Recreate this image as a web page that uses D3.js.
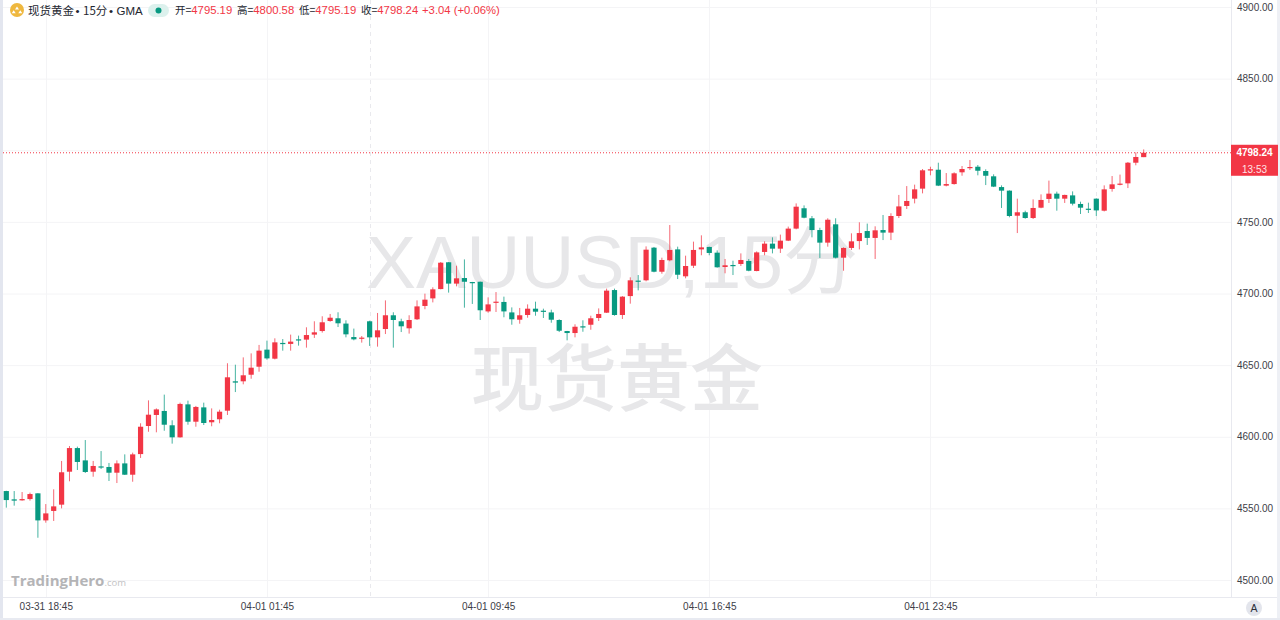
<!DOCTYPE html>
<html><head><meta charset="utf-8">
<script src="https://cdn.jsdelivr.net/npm/d3@7"></script>
<style>html,body{margin:0;padding:0;background:#fff;overflow:hidden}svg{display:block}</style>
</head><body><svg id="c" width="1280" height="620"></svg>
<script>
const opens=[4562.1,4556.3,4555.6,4556.5,4560.5,4541.6,4548.2,4552.6,4575.6,4592.1,4583.5,4575.6,4579.3,4578.9,4574.9,4581.4,4573.5,4587.9,4607.5,4615.2,4618.0,4608.0,4599.6,4622.6,4610.5,4620.5,4610.1,4612.2,4618.2,4638.7,
4638.7,4643.3,4648.9,4660.8,4654.5,4665.5,4664.8,4668.0,4667.8,4671.3,4673.8,4680.8,4682.7,4679.0,4669.6,4668.5,4680.6,4669.4,4675.2,4684.8,4680.6,4675.7,4682.0,4691.3,4696.6,4703.1,4721.8,4706.9,
4710.8,4708.0,4708.2,4687.5,4693.6,4694.1,4686.8,4681.7,4685.0,4689.4,4688.0,4686.8,4681.5,4673.8,4672.4,4677.1,4678.2,4682.9,4686.6,4702.4,4685.0,4698.2,4709.0,
4709.2,4732.0,4715.2,4723.2,4730.8,4712.0,4719.4,4730.8,4732.5,4728.5,4718.5,4719.9,4720.6,4722.7,4715.7,4729.0,4734.8,4731.3,4736.9,4745.3,4759.5,4752.5,4744.3,4735.5,4748.3,4725.0,4731.8,4736.6,4743.6,4738.8,
4744.3,4742.5,4754.1,4761.1,4766.2,4773.2,4786.2,4786.4,4775.3,4776.4,4784.6,4787.6,4788.5,4785.5,4781.8,4774.3,4771.8,4754.3,4756.7,4752.7,4759.9,4766.0,4769.7,4766.2,4768.5,4762.5,4759.2,4766.2,4757.8,4773.0,4776.0,4776.9,4791.3,4795.19];
const highs=[4562.3,4562.1,4561.4,4561.0,4560.6,4553.0,4563.3,4583.1,4593.5,4593.1,4597.7,4583.1,4590.0,4581.7,4583.5,4587.7,4588.9,4609.4,4625.4,4619.8,4629.4,4611.5,4623.8,4625.2,4621.5,4623.8,4619.8,4618.9,4651.3,4650.3,
4655.4,4658.2,4664.1,4667.1,4668.7,4668.2,4671.3,4670.6,4676.4,4680.6,4684.1,4685.7,4686.9,4681.3,4675.5,4670.3,4681.0,4686.4,4695.2,4686.9,4682.4,4684.8,4695.2,4699.9,4704.3,4722.0,4722.0,4719.4,
4723.8,4708.1,4708.3,4697.3,4701.0,4697.8,4690.3,4689.9,4692.4,4694.3,4689.4,4688.7,4682.0,4673.9,4678.5,4681.3,4684.5,4689.6,4703.4,4703.4,4698.2,4711.3,4712.9,
4732.9,4732.5,4725.0,4747.8,4732.7,4726.4,4736.2,4740.6,4732.7,4730.1,4724.1,4722.9,4728.0,4724.1,4729.4,4736.4,4739.2,4741.1,4746.7,4762.9,4761.5,4754.1,4745.9,4752.5,4752.5,4732.2,4742.0,4749.7,4748.8,4746.9,
4754.8,4756.0,4768.8,4775.0,4776.0,4786.9,4788.5,4791.3,4784.1,4784.6,4789.0,4793.2,4789.7,4786.7,4783.2,4775.5,4772.0,4766.2,4757.8,4765.7,4769.2,4778.8,4771.1,4769.0,4771.3,4764.1,4763.4,4766.4,4775.5,4782.0,4783.0,4791.8,4798.5,4800.58];
const lows=[4550.5,4551.9,4555.4,4555.4,4529.5,4540.0,4541.2,4550.0,4568.9,4576.8,4574.7,4572.1,4577.5,4569.1,4567.7,4573.3,4568.6,4585.2,4603.5,4603.1,4604.2,4595.2,4599.4,4608.4,4607.0,4608.2,4607.3,4609.4,4615.2,4631.2,
4636.6,4640.5,4645.4,4653.8,4654.0,4660.1,4660.1,4663.6,4662.2,4669.0,4672.7,4680.3,4676.6,4669.4,4667.3,4665.7,4663.4,4662.9,4671.7,4662.2,4673.1,4672.0,4681.5,4689.0,4693.8,4702.9,4700.6,4705.0,
4690.1,4692.7,4681.5,4686.6,4687.1,4683.4,4678.2,4678.9,4683.1,4684.5,4682.9,4679.6,4673.1,4667.3,4669.4,4673.3,4674.7,4680.8,4686.4,4684.5,4682.2,4692.9,4702.2,
4708.5,4714.8,4713.8,4722.5,4710.1,4710.6,4717.8,4726.7,4726.7,4718.0,4714.1,4712.9,4719.2,4715.5,4715.5,4726.7,4728.0,4728.3,4736.6,4744.8,4752.5,4739.2,4724.8,4732.7,4724.5,4715.9,4730.4,4730.8,4733.9,4724.1,
4737.3,4737.3,4752.7,4759.0,4762.9,4769.9,4782.5,4775.0,4774.8,4776.0,4782.2,4786.2,4782.5,4775.7,4774.3,4759.7,4753.2,4742.2,4752.2,4752.0,4759.5,4763.2,4757.8,4763.2,4761.5,4755.5,4756.2,4754.1,4757.3,4771.1,4775.5,4773.6,4789.5,4795.19];
const closes=[4555.8,4555.4,4556.5,4560.0,4541.6,4546.5,4551.4,4575.2,4592.1,4582.4,4575.4,4579.6,4578.6,4574.9,4581.4,4573.5,4587.7,4607.0,4615.4,4619.1,4608.4,4599.6,4622.9,4610.5,4620.8,4609.6,4611.7,4617.5,4641.5,4637.8,
4642.9,4648.2,4660.1,4654.7,4665.9,4664.8,4666.4,4667.3,4671.0,4672.9,4679.9,4683.1,4679.2,4671.5,4668.0,4669.2,4669.4,4674.3,4684.8,4681.5,4677.1,4681.5,4691.0,4695.7,4702.9,4721.5,4706.9,4710.6,
4708.2,4707.6,4688.3,4692.4,4694.3,4687.5,4682.0,4684.8,4689.4,4687.3,4687.5,4681.7,4674.0,4672.4,4676.8,4676.6,4682.7,4685.7,4702.0,4685.0,4697.8,4709.2,4708.2,
4730.6,4715.2,4723.4,4730.4,4713.1,4719.2,4730.4,4732.2,4728.3,4718.3,4719.7,4719.4,4723.4,4715.9,4728.7,4734.8,4731.3,4736.9,4745.3,4760.6,4752.9,4744.3,4735.5,4751.5,4725.0,4731.8,4736.4,4742.2,4738.8,4744.1,
4742.5,4754.1,4760.8,4764.6,4772.7,4786.0,4786.7,4775.3,4776.4,4783.9,4786.9,4788.3,4785.7,4782.2,4774.6,4771.8,4754.1,4756.7,4752.7,4759.7,4765.3,4769.7,4766.2,4768.8,4762.7,4759.9,4758.5,4758.0,4772.7,4776.2,4776.7,4791.3,4795.3,4798.24];

const priceGrid=[4500,4550,4600,4650,4700,4750,4800,4850,4900];
const priceLabels=[4500,4550,4600,4650,4700,4750,4850,4900];
const timeTickIndex=[5,33,61,89,117];
const timeTickLabels=["03-31 18:45","04-01 01:45","04-01 09:45","04-01 16:45","04-01 23:45"];
const daySeparatorIndex=[46,138];
const lastPrice=4798.24;
const countdown="13:53";
const headerPrices=[["开=","4795.19"],["高=","4800.58"],["低=","4795.19"],["收=","4798.24"]];
const changeText="+3.04 (+0.06%)";

const UP="#f23645",DOWN="#089981";
const FONT="'Liberation Sans','Noto Sans CJK SC',sans-serif";
const CJK="'Noto Sans CJK SC',sans-serif";
const svg=d3.select("#c").style("font-family",FONT);
const x=d3.scaleLinear().domain([0,144]).range([6.3,1143.7]);
const y=d3.scaleLinear().domain([4900,4500]).range([7,580]);
const W=1231,H=597;

// frame
svg.append("rect").attr("x",0).attr("y",0).attr("width",3).attr("height",620).attr("fill","#e3e6ef");
svg.append("rect").attr("x",1277).attr("y",0).attr("width",3).attr("height",620).attr("fill","#eef0f5");
svg.append("rect").attr("x",0).attr("y",618).attr("width",1280).attr("height",2).attr("fill","#e8eaf1");

// grid
const g=svg.append("g");
g.selectAll(".h").data(priceGrid).join("line").attr("x1",3).attr("x2",W)
  .attr("y1",d=>y(d)+.5).attr("y2",d=>y(d)+.5).attr("stroke","#f4f4f6");
g.selectAll(".v").data(timeTickIndex).join("line").attr("y1",0).attr("y2",H)
  .attr("x1",d=>Math.round(x(d))+.5).attr("x2",d=>Math.round(x(d))+.5).attr("stroke","#f4f4f6");
g.selectAll(".d").data(daySeparatorIndex).join("line").attr("y1",0).attr("y2",H)
  .attr("x1",d=>Math.round(x(d))+.5).attr("x2",d=>Math.round(x(d))+.5).attr("stroke","#e9e9ed").attr("stroke-dasharray","4 4");

// watermark
const wm=svg.append("g").attr("fill","#e7e7e9").attr("text-anchor","middle");
wm.append("text").attr("x",612).attr("y",288).attr("font-size",75).attr("font-family",FONT).text("XAUUSD,15分");
wm.append("text").attr("x",617).attr("y",405).attr("font-size",73).attr("font-weight",500).attr("font-family",CJK).text("现货黄金");

// logo
const logo=svg.append("text").attr("x",11).attr("y",586).attr("fill","#b4b4b6").attr("font-family","'Open Sans',sans-serif");
logo.append("tspan").attr("font-size",15).attr("font-weight",700).text("TradingHero");
logo.append("tspan").attr("font-size",9.5).attr("fill","#c2c2c4").text(".com");

// axes
const axR=d3.axisRight(y).tickValues(priceLabels).tickSize(0).tickPadding(6).tickFormat(d3.format(".2f"));
const ay=svg.append("g").attr("transform",`translate(${W},0)`).call(axR);
ay.select(".domain").remove();
ay.selectAll("text").attr("font-size",10).attr("fill","#3d4048").attr("font-family",FONT);
const axB=d3.axisBottom(x).tickValues(timeTickIndex).tickSize(0).tickPadding(6).tickFormat((d,i)=>timeTickLabels[i]);
const ax=svg.append("g").attr("transform",`translate(0,${H})`).call(axB);
ax.select(".domain").remove();
ax.selectAll("text").attr("font-size",10).attr("fill","#3d4048").attr("font-family",FONT);
svg.append("line").attr("x1",W+.5).attr("x2",W+.5).attr("y1",0).attr("y2",H).attr("stroke","#e8e9ef");
svg.append("line").attr("x1",3).attr("x2",1277).attr("y1",H+.5).attr("y2",H+.5).attr("stroke","#e8e9ef");
svg.append("circle").attr("cx",1254).attr("cy",608).attr("r",8).attr("fill","#e3e5ec");
svg.append("text").attr("x",1254).attr("y",612).attr("text-anchor","middle").attr("font-size",10.5).attr("fill","#2a2e39").text("A");

// last price line
svg.append("line").attr("x1",3).attr("x2",W).attr("y1",y(lastPrice)).attr("y2",y(lastPrice))
  .attr("stroke",UP).attr("stroke-width",1).attr("stroke-dasharray","1 2");

// candles
const idx=d3.range(closes.length);
const col=i=>closes[i]>=opens[i]?UP:DOWN;
const cg=svg.append("g");
cg.selectAll(".w").data(idx).join("line")
  .attr("x1",i=>x(i)).attr("x2",i=>x(i)).attr("y1",i=>y(highs[i])).attr("y2",i=>y(lows[i]))
  .attr("stroke",col).attr("stroke-width",1).attr("stroke-opacity",.75);
cg.selectAll(".b").data(idx).join("rect")
  .attr("x",i=>x(i)-2.6).attr("width",5.2)
  .attr("y",i=>y(Math.max(opens[i],closes[i])))
  .attr("height",i=>Math.max(1.2,Math.abs(y(opens[i])-y(closes[i]))))
  .attr("fill",col);

// price tag
const ly=y(lastPrice);
svg.append("rect").attr("x",W).attr("y",ly-8).attr("width",47).attr("height",31).attr("fill",UP);
svg.append("text").attr("x",W+23.5).attr("y",ly+3.6).attr("text-anchor","middle").attr("font-size",10).attr("font-weight",700).attr("fill","#fff").text(d3.format(".2f")(lastPrice));
svg.append("text").attr("x",W+23.5).attr("y",ly+20).attr("text-anchor","middle").attr("font-size",10).attr("fill","#ffe3e6").text(countdown);

// header
svg.append("circle").attr("cx",17).attr("cy",10).attr("r",7).attr("fill","#efb83f");
svg.append("path").attr("d","M17 6.5l2 3h-4zM13.7 10.2l2 3h-4zM20.3 10.2l2 3h-4z").attr("fill","#fff");
const ht=svg.append("g").attr("font-size",11.5).attr("fill","#23262f");
ht.append("text").attr("x",28).attr("y",14.5).attr("font-family",CJK).text("现货黄金");
ht.append("text").attr("x",75.5).attr("y",14.5).text("•");
ht.append("text").attr("x",83).attr("y",14.5).attr("font-family",CJK).text("15分");
ht.append("text").attr("x",109).attr("y",14.5).text("•");
ht.append("text").attr("x",116.5).attr("y",14.5).text("GMA");
svg.append("rect").attr("x",148).attr("y",4).attr("width",21).attr("height",13).attr("rx",6.5).attr("fill","#dcf1ed");
svg.append("circle").attr("cx",158.5).attr("cy",10.5).attr("r",3).attr("fill","#089981");
let hx=175;
const hdr=svg.append("g").attr("font-size",11.3);
const hw=[62,62,62,61];
headerPrices.forEach((p,i)=>{
  const t=hdr.append("text").attr("x",hx).attr("y",14);
  t.append("tspan").attr("fill","#23262f").attr("font-family",CJK).attr("font-size",10.5).text(p[0]);
  t.append("tspan").attr("fill",UP).text(p[1]);
  hx+=hw[i];
});
hdr.append("text").attr("x",422).attr("y",14).attr("fill",UP).text(changeText);
</script></body></html>
